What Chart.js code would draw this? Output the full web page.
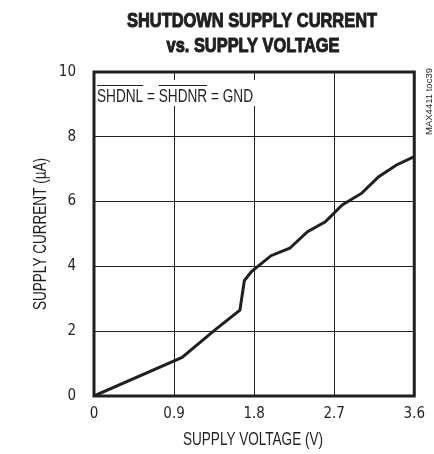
<!DOCTYPE html>
<html>
<head>
<meta charset="utf-8">
<script src="https://cdn.jsdelivr.net/npm/chart.js@4/dist/chart.umd.min.js"></script>
<style>
html,body{margin:0;padding:0;background:#fff;}
#wrap{width:434px;height:454px;position:relative;}
</style>
</head>
<body>
<div id="wrap"><canvas id="c" width="434" height="454"></canvas></div>
<script>
const voltage = [0, 0.99, 1.36, 1.64, 1.69, 1.77, 1.99, 2.2, 2.4, 2.6, 2.79, 3.01, 3.2, 3.4, 3.6];
const current = [0, 1.19, 2.04, 2.65, 3.56, 3.84, 4.33, 4.56, 5.07, 5.38, 5.9, 6.26, 6.77, 7.13, 7.39];
const xTicks = [0, 0.9, 1.8, 2.7, 3.6];
const xTickLabels = ['0', '0.9', '1.8', '2.7', '3.6'];
const yTicks = [0, 2, 4, 6, 8, 10];
const yTickLabels = ['0', '2', '4', '6', '8', '10'];
const titleLines = ['SHUTDOWN SUPPLY CURRENT', 'vs. SUPPLY VOLTAGE'];
const xTitle = 'SUPPLY VOLTAGE (V)';
const yTitle = 'SUPPLY CURRENT (\u00B5A)';
const sideNote = 'MAX4411 toc39';

const INK = '#231f20';
const TICKFONT = '"DejaVu Sans Condensed", "Liberation Sans", sans-serif';
const SANS = '"Liberation Sans", Arial, sans-serif';

// draw text squeezed horizontally by factor sx
function drawSqueezed(ctx, text, x, y, sx, align, stroke) {
  const w = ctx.measureText(text).width * sx;
  let left = x;
  if (align === 'center') left = x - w / 2;
  else if (align === 'right') left = x - w;
  ctx.save();
  ctx.translate(left, y);
  ctx.scale(sx, 1);
  ctx.textAlign = 'left';
  ctx.fillText(text, 0, 0);
  if (stroke) ctx.strokeText(text, 0, 0);
  ctx.restore();
  return w;
}

const decor = {
  id: 'decor',
  beforeDatasetsDraw(chart) {
    const ctx = chart.ctx, a = chart.chartArea;
    ctx.save();
    ctx.fillStyle = '#fff';
    ctx.fillRect(a.left + 1, 80, 166, 26);
    ctx.restore();
  },
  afterDatasetsDraw(chart) {
    const ctx = chart.ctx, a = chart.chartArea;
    ctx.save();
    // border
    ctx.strokeStyle = INK;
    ctx.lineWidth = 3;
    ctx.strokeRect(a.left, a.top, a.right - a.left, a.bottom - a.top);
    ctx.fillStyle = INK;
    ctx.textBaseline = 'alphabetic';
    // title (condensed heavy look)
    ctx.font = 'bold 21px ' + SANS;
    const t1w = ctx.measureText(titleLines[0]).width;
    const tsx = 250 / t1w;
    ctx.lineWidth = 1.1;
    ctx.lineJoin = 'round';
    drawSqueezed(ctx, titleLines[0], 252, 27, tsx, 'center', true);
    drawSqueezed(ctx, titleLines[1], 253, 52, tsx, 'center', true);
    // x title
    ctx.font = '18px ' + SANS;
    const xsx = 140 / ctx.measureText(xTitle).width;
    drawSqueezed(ctx, xTitle, 253, 445, xsx, 'center');
    // y title
    ctx.save();
    ctx.translate(46, (a.top + a.bottom) / 2);
    ctx.rotate(-Math.PI / 2);
    drawSqueezed(ctx, yTitle, 0, 0, xsx, 'center');
    ctx.restore();
    // side note
    ctx.save();
    ctx.font = '9px ' + SANS;
    const ssx = 67 / ctx.measureText(sideNote).width;
    ctx.translate(431.5, 135);
    ctx.rotate(-Math.PI / 2);
    drawSqueezed(ctx, sideNote, 0, 0, ssx, 'left');
    ctx.restore();
    // annotation with overlines
    ctx.font = '18px ' + SANS;
    const parts = [['SHDNL', true], [' = ', false], ['SHDNR', true], [' = GND', false]];
    const full = parts.map(p => p[0]).join('');
    const asx = 156 / ctx.measureText(full).width;
    let x = a.left + 3;
    const yb = 102;
    ctx.lineWidth = 1;
    for (const [t, over] of parts) {
      const w = drawSqueezed(ctx, t, x, yb, asx, 'left');
      if (over) {
        ctx.beginPath();
        ctx.moveTo(x, 85.5);
        ctx.lineTo(x + w, 85.5);
        ctx.stroke();
      }
      x += w;
    }
    ctx.restore();
  }
};

new Chart(document.getElementById('c'), {
  type: 'line',
  data: {
    datasets: [{
      data: voltage.map((v, i) => ({ x: v, y: current[i] })),
      borderColor: INK,
      borderWidth: 3,
      pointRadius: 0,
      tension: 0,
      fill: false
    }]
  },
  options: {
    responsive: false,
    animation: false,
    devicePixelRatio: 1,
    layout: { padding: { top: 72, right: 12, left: 0, bottom: 0 } },
    plugins: { legend: { display: false }, title: { display: false }, tooltip: { enabled: false } },
    scales: {
      x: {
        type: 'linear', min: 0, max: 3.6,
        afterBuildTicks(s) { s.ticks = xTicks.map(v => ({ value: v })); },
        afterFit(s) { s.height = 58; },
        grid: { color: INK, lineWidth: 1, drawTicks: false },
        border: { display: false },
        ticks: {
          padding: 9, color: INK,
          font: { family: TICKFONT, size: 15 },
          callback(v) { const i = xTicks.indexOf(v); return i >= 0 ? xTickLabels[i] : ''; }
        }
      },
      y: {
        type: 'linear', min: 0, max: 10,
        afterBuildTicks(s) { s.ticks = yTicks.map(v => ({ value: v })); },
        afterFit(s) { s.width = 94; },
        grid: { color: INK, lineWidth: 1, drawTicks: false },
        border: { display: false },
        ticks: {
          padding: 18, color: INK,
          font: { family: TICKFONT, size: 15 },
          callback(v) { const i = yTicks.indexOf(v); return i >= 0 ? yTickLabels[i] : ''; }
        }
      }
    }
  },
  plugins: [decor]
});
</script>
</body>
</html>
